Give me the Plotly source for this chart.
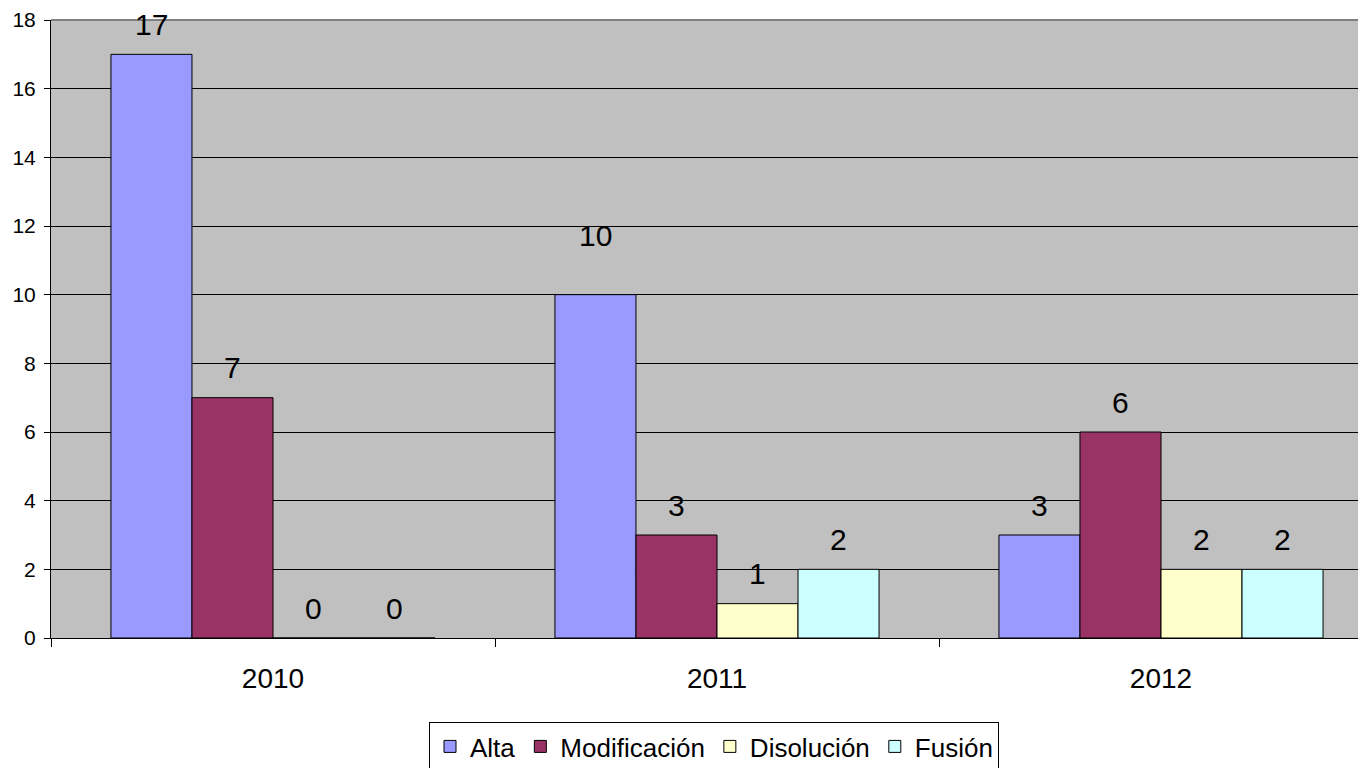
import plotly.graph_objects as go

years = ["2010", "2011", "2012"]
series_names = ["Alta", "Modificación", "Disolución", "Fusión"]
alta = [17, 10, 3]
modificacion = [7, 3, 6]
disolucion = [0, 1, 2]
fusion = [0, 2, 2]
y_ticks = [0, 2, 4, 6, 8, 10, 12, 14, 16, 18]

values = [alta, modificacion, disolucion, fusion]
colors = ["#9999FF", "#993366", "#FFFFCC", "#CCFFFF"]
FONT = "Arial, 'Liberation Sans', sans-serif"
BARGAP = 0.27
PAGE_OFF = 8  # default body margin of the html page
W, H = 1366, 768

fig = go.Figure()
for name, vals, col in zip(series_names, values, colors):
    fig.add_trace(go.Bar(
        x=years, y=vals, name=name,
        marker=dict(color=col, line=dict(color="black", width=1)),
    ))

# data labels above bars
n = len(series_names)
bar_w = (1 - BARGAP) / n
extra_shift = {(0, 1): 29}  # label of Alta 2011 sits higher in the original
annotations = []
for i, vals in enumerate(values):
    for j, v in enumerate(vals):
        annotations.append(dict(
            x=j + (i - (n - 1) / 2) * bar_w, y=v, xref="x", yref="y",
            text=str(v), showarrow=False, yanchor="middle",
            yshift=30 + extra_shift.get((i, j), 0),
            font=dict(family=FONT, size=30, color="black"),
        ))

ml, mt, mb = 51 - PAGE_OFF, 20 - PAGE_OFF, 130 + PAGE_OFF
dom_w = W - ml

fig.update_layout(
    width=W, height=H,
    paper_bgcolor="white", plot_bgcolor="#C0C0C0",
    barmode="group", bargap=BARGAP, bargroupgap=0,
    margin=dict(l=ml, r=0, t=mt, b=mb, autoexpand=False),
    font=dict(family=FONT, color="black"),
    annotations=annotations,
    showlegend=True,
    legend=dict(
        orientation="h", xref="container", yref="container",
        x=(714 - PAGE_OFF) / W, xanchor="center",
        y=1 - (722 - PAGE_OFF) / H, yanchor="top",
        bgcolor="white", bordercolor="black", borderwidth=1,
        font=dict(family=FONT, size=26, color="black"),
        itemclick=False,
    ),
    xaxis=dict(
        type="category", range=[-0.5, -0.5 + dom_w / 444],
        showgrid=False, showline=True, linecolor="black", linewidth=1,
        ticks="outside", tickson="boundaries", ticklen=8, tickcolor="black",
        tickfont=dict(family=FONT, size=28, color="black"),
        ticklabelstandoff=15, automargin=False,
    ),
    yaxis=dict(
        range=[0, 18], tickvals=y_ticks,
        showgrid=True, gridcolor="black", gridwidth=1,
        showline=True, linecolor="black", linewidth=1,
        ticks="outside", ticklen=6, tickcolor="black",
        tickfont=dict(family=FONT, size=21, color="black"),
        ticklabelstandoff=4, zeroline=False, automargin=False,
    ),
    shapes=[dict(type="line", xref="paper", yref="paper", x0=0, x1=1, y0=1, y1=1,
                 line=dict(color="#808080", width=2), layer="above")],
)

fig.write_html("out.html")
